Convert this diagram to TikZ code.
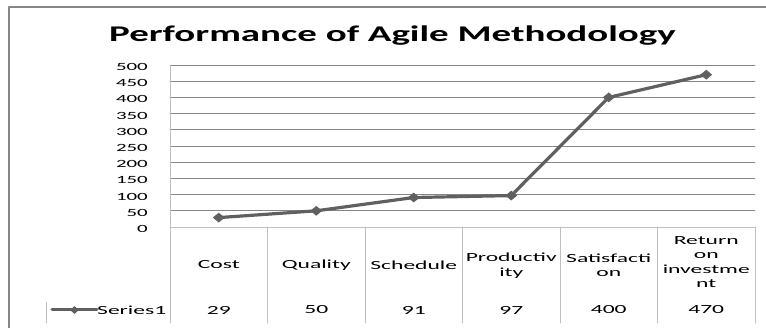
\documentclass[tikz,border=0pt]{standalone}
\usepackage{fontspec}
\setmainfont{Carlito}
\newfontfamily\chartfont{Carlito}[FakeStretch=1.9]
\newfontfamily\headfont{Carlito}[FakeStretch=1.74]
\usetikzlibrary{shapes.geometric,calc}
\definecolor{gridgray}{RGB}{134,134,134}
\definecolor{rulegray}{RGB}{192,192,192}
\definecolor{seriesgray}{RGB}{96,96,96}
\tikzset{
every picture/.append style={
    line join=round,
    line cap=round
  },
tick/.style={anchor=east,inner sep=0pt,font=\chartfont\fontsize{11}{11}\selectfont},
cell/.style={align=center,inner sep=0pt,font=\chartfont\fontsize{12.4}{14.5}\selectfont},
marker/.style={diamond,fill=seriesgray,inner sep=0pt,minimum width=12pt,minimum height=10pt}
}

\begin{document}
\begin{tikzpicture}[x=1pt,y=-1pt]
    \useasboundingbox (0,0) rectangle (766,328);
    % frame and title
    \draw [gridgray,line width=1.2pt] (9,328) -- (9,7) -- (766,7);
    \node [anchor=base,inner sep=0pt,font=\headfont\bfseries\fontsize{22.4}{24}\selectfont] (title) at (392.5,41.7) {Performance of Agile Methodology};
    % value axis
    \foreach \v in {50,100,...,500}
        \draw [gridgray,line width=0.8pt] (170,{227-0.324*\v}) -- (755,{227-0.324*\v});
    \foreach \v in {0,50,...,500}
        \node [tick] (tick\v) at (148,{229-0.324*\v}) {\v};
    % data table
    \draw [rulegray,line width=0.8pt] (170,227) -- (755,227);
    \foreach \i in {0,...,6}
        \draw [rulegray,line width=0.8pt] ({170+97.5*\i},{\i==0 ? 65 : 227}) -- ({170+97.5*\i},323);
    \draw [rulegray,line width=0.8pt] (46,302) -- (46,323);
    \foreach \i/\txt/\yy in {0/Cost/265,1/Quality/265,2/Schedule/265,3/{Productiv\\ity}/265.5,4/{Satisfacti\\on}/265.5,5/{Return\\on\\investme\\nt}/262}
        \node [cell] (cat\i) at ({218.75+97.5*\i},\yy) {\txt};
    % series
    \foreach \i/\v in {0/29,1/50,2/91,3/97,4/400,5/470}{
        \coordinate (p\i) at ({218.75+97.5*\i},{227-0.324*\v});
        \node [cell] (val\i) at ({218.75+97.5*\i},310) {\v};
    }
    \draw [seriesgray,line width=3.2pt] (p0) -- (p1) -- (p2) -- (p3) -- (p4) -- (p5);
    \foreach \i in {0,...,5}
        \node [marker] (mark\i) at (p\i) {};
    % legend
    \coordinate (legend) at (52,310);
    \node [cell,anchor=west] (series) at (97,310) {Series1};
    \draw [seriesgray,line width=3pt] (legend) -- (series.west);
    \node [marker,minimum width=9pt,minimum height=8pt] (legmark) at ($(legend)!0.5!(series.west)$) {};
\end{tikzpicture}
\end{document}
